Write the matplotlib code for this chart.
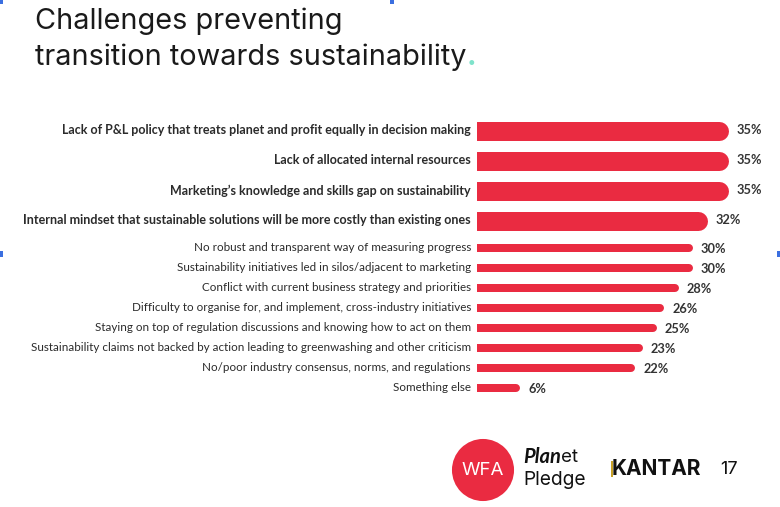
import matplotlib
matplotlib.use("Agg")
import matplotlib.pyplot as plt
from matplotlib.patches import Circle, Rectangle

labels = [
    "Lack of P&L policy that treats planet and profit equally in decision making",
    "Lack of allocated internal resources",
    "Marketing\u2019s knowledge and skills gap on sustainability",
    "Internal mindset that sustainable solutions will be more costly than existing ones",
    "No robust and transparent way of measuring progress",
    "Sustainability initiatives led in silos/adjacent to marketing",
    "Conflict with current business strategy and priorities",
    "Difficulty to organise for, and implement, cross-industry initiatives",
    "Staying on top of regulation discussions and knowing how to act on them",
    "Sustainability claims not backed by action leading to greenwashing and other criticism",
    "No/poor industry consensus, norms, and regulations",
    "Something else",
]
values = [35, 35, 35, 32, 30, 30, 28, 26, 25, 23, 22, 6]
highlight = [True, True, True, True] + [False] * 8

RED = "#EA2B41"
TEXT = "#2b2b2b"
plt.rcParams["font.family"] = ["Lato", "DejaVu Sans"]

W, H = 780, 507
fig = plt.figure(figsize=(W / 100, H / 100), dpi=100)
fig.patch.set_facecolor("white")

# row positions: highlighted rows take 1.55 units, others 1
ypos = []
acc = 0
for h in highlight:
    step = 1.5 if h else 1.0
    ypos.append(acc + step / 2)
    acc += step
ypos = [y + (0.1 if not h else 0) for y, h in zip(ypos, highlight)]
acc += 0.1

# bar area in pixels (20 px per row unit)
left_px, right_px, top_px = 477, 780, 115.5
bot_px = top_px + 20 * acc
ax = fig.add_axes([left_px / W, 1 - bot_px / H, (right_px - left_px) / W, (bot_px - top_px) / H])
ax.set_xlim(0, 42.1)
ax.set_ylim(acc, 0)
for s in ax.spines.values():
    s.set_visible(False)
ax.set_xticks([])
ax.set_yticks([])
ax.patch.set_alpha(0)

x0 = ax.transData.transform((0, 0))[0]
ppu = ax.transData.transform((1, 0))[0] - x0  # pixels per percent

for lab, v, y, h in zip(labels, values, ypos, highlight):
    bar_px = 19 if h else 8
    lw = bar_px * 72 / 100
    r = (bar_px / 2) / ppu
    ax.plot([0, v - r], [y, y], color=RED, lw=lw, solid_capstyle="round",
            clip_on=True)
    ax.text(-6 / ppu, y, lab, ha="right", va="center", color=TEXT,
            fontsize=9.0 if h else 8.4, fontweight="bold" if h else "normal")
    ax.text(v + 8 / ppu, y + (0 if h else 0.08), f"{v}%", ha="left", va="center",
            color="#333333", fontsize=9.2, fontweight="bold")

# title
tfont = dict(fontsize=20.8, color="#1a1a1a", family=["Inter", "DejaVu Sans"])
fig.text(35 / W, 1 - 29 / H, "Challenges preventing", va="baseline", **tfont)
t2 = fig.text(35 / W, 1 - 65 / H, "transition towards sustainability", va="baseline", **tfont)
rend = fig.canvas.get_renderer()
bb = t2.get_window_extent(rend)
fig.text(bb.x1 / W, 1 - 65 / H, ".", va="baseline", fontsize=20.8, color="#7FE3CB",
         family=["Inter", "DejaVu Sans"], fontweight="bold")

# footer logos
lax = fig.add_axes([(483 - 32) / W, 1 - (470 + 32) / H, 64 / W, 64 / H])
lax.set_xlim(-1, 1)
lax.set_ylim(-1, 1)
lax.axis("off")
lax.add_patch(Circle((0, 0), 0.97, facecolor=RED, edgecolor="none"))
lax.text(0, -0.02, "WFA", ha="center", va="center", color="white", fontsize=13.5,
         family=["Inter", "DejaVu Sans"])

p1 = fig.text(523 / W, 1 - 457 / H, "Plan", va="center", fontsize=14.5,
              fontweight="bold", style="italic", color="#111111")
bb = p1.get_window_extent(rend)
fig.text(bb.x1 / W, 1 - 457 / H, "et", va="center", fontsize=13.5, color="#111111",
         family=["Inter", "DejaVu Sans"])
fig.text(523 / W, 1 - 480 / H, "Pledge", va="center", fontsize=13.8, color="#111111",
         family=["Inter", "DejaVu Sans"])

fig.patches.append(Rectangle((611 / W, 1 - 477 / H), 2 / W, 16 / H, transform=fig.transFigure,
                             facecolor="#C9A227", edgecolor="none"))
fig.text(612 / W, 1 - 469 / H, "KANTAR", va="center", fontsize=15, fontweight="bold",
         color="#111111", family=["Inter", "DejaVu Sans"])
fig.text(720 / W, 1 - 469 / H, "17", va="center", fontsize=13, color="#111111",
         family=["Inter", "DejaVu Sans"])

# little blue selection marks from the slide screenshot
for (x, y, w, h) in [(0, 0, 3, 4), (390, 0, 4, 4), (0, 251, 3, 6), (777, 251, 3, 6)]:
    fig.patches.append(Rectangle((x / W, 1 - (y + h) / H), w / W, h / H,
                                 transform=fig.transFigure, facecolor="#3B6FE0",
                                 edgecolor="none"))

fig.savefig("out.png", dpi=100)
